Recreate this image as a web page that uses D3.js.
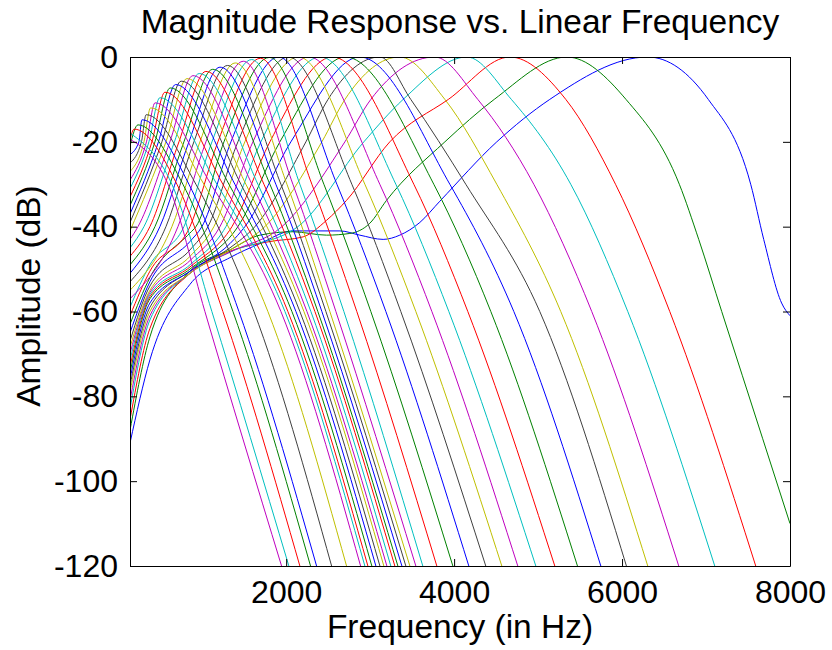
<!DOCTYPE html>
<html>
<head>
<meta charset="utf-8">
<script src="https://cdn.jsdelivr.net/npm/d3@7"></script>
<style>
  body { margin: 0; background: #fff; }
  text { font-family: "Liberation Sans", Arial, Helvetica, sans-serif; fill: #000; }
</style>
</head>
<body>
<div id="chart"></div>
<script>
// 40 gammatone channels, highest centre frequency first (ch1 = rightmost peak).
// All values: frequency in Hz, level in dB.

const peakHz = [6306, 5342, 4664, 4152, 3770, 3353, 3116, 2877, 2705, 2550,
                2405, 2273, 2146, 2026, 1911, 1800, 1693, 1589, 1489, 1393,
                1300, 1211, 1125, 1043, 964, 889, 818, 749, 682, 618,
                556, 496, 439, 385, 332, 282, 235, 189, 145, 104];
const peakDb = [0, 0, 0, 0, 0, 0, 0, 0, 0, 0,
                0, 0, 0, 0, 0, -0.1, -0.3, -0.6, -1.0, -1.4,
                -2.0, -2.4, -2.9, -3.4, -3.9, -4.4, -5.1, -5.7, -6.5, -7.3,
                -8.3, -9.6, -10.8, -12, -13.6, -14.8, -16, -17, -18, -19];

// level where each curve meets the left edge of the axes (140 Hz)
const edgeDb = [-91, -88, -85.5, -83, -81, -79, -77.5, -76, -74.5, -73,
                -71.5, -70, -68.5, -67, -65, -63, -61, -59, -57, -55,
                -53, -51, -49, -47, -45, -43, -41, -39, -37, -35,
                -33, -31, -29, -27, -25, -23, -21, -19.5, null, null];

// low-frequency tail of the upper channels: level at 377 Hz, 854 Hz and 1330 Hz
const tailDb = [-71.4, -66, -64, -62, -61, -60, -59, -58, -57, -56.5,
                -56, -55.5, -55, -54, -53, -52, -50.5, -49];
const midDb = [-53.6, -50.5, -51, -51, -51, -51, -50.5, -50.5, -50, -49.5,
               -49, -48, -47, -45.5, -43.5, -41.5];
const bundleDb = [-47.3, -45.5, -45.8, -46, -46, -45.5, -45, -44];

// the -42 dB shelf of the three highest channels
const shelf1 = [[1687, -44], [2080, -41], [2640, -41], [2877, -42], [3155, -43],
                [3353, -42], [3592, -39], [3830, -34]];
const shelf2 = [[1687, -42], [2080, -41.2], [2481, -42], [2758, -41.6], [2996, -39.2],
                [3195, -33.8]];
const shelf3 = [[1806, -43.5], [2202, -42.4], [2481, -38.5], [2719, -33.8]];

// left flank crossings of -40, -20 and -10 dB
const left40Hz = [null, null, null, 2139, 1949, 1746, 1627, 1508, 1425, 1354,
                  1282, 1211, 1139, 1068, 996, 925, 854, 782, 711, 639,
                  568, 496, 437, 377, 306, 235];
const left20Hz = [4508, 3890, 3234, 2925, 2699, 2425, 2235, 2056, 1925, 1806,
                  1699, 1604, 1508, 1425, 1342, 1259, 1187, 1116, 1044, 973,
                  901, 842, 782, 723, 669, 615, 568, 520, 479, 437,
                  401, 365, 336, 306, 276, 246];
const left10Hz = [5139, 4477, 3931, 3393, 3008, 2700, 2498];

// right flank crossings of -10, -30, -60 and -120 dB
const right10Hz = [7027, 6047, 5330, 4682, 4282, 3890, 3484];
const right30Hz = [7532, 6682, 5922, 5389, 4949, 4508, 4139, 3949, 3758, 3520,
                   3306, 3115, 2937, 2782, 2604, 2449, 2306, 2163, 2080, 2009,
                   1937, 1877, 1806, 1735, 1663, 1592, 1520, 1461, 1389, 1318,
                   1246, 1175, 1104, 1020, 925, 842, 770, 699, 639, 592];
const right60Hz = [null, null, 6568, 6068, 5639, 5270, 5020, 4711, 4437, 4163,
                   3937, 3735, 3544, 3365, 3187, 3008, 2841, 2687, 2592, 2520,
                   2473, 2425, 2377, 2342, 2294, 2247, 2211, 2163, 2116, 2068,
                   2020, 1985, 1937, 1782, 1616, 1437, 1366, 1246, 1115, 1032];
const right120Hz = [null, null, 7592, 7104, 6675, 6306, 6052, 5747, 5469, 5199,
                    4973, 4758, 4568, 4377, 4175, 3985, 3794, 3627, 3544, 3473,
                    3425, 3378, 3330, 3294, 3246, 3199, 3163, 3116, 3068, 3020,
                    2973, 2937, 2886, 2719, 2541, 2362, 2290, 2163, 2032, 1945];

// the two highest channels still end above -120 dB at 8000 Hz
const end1 = [[7687, -43], [7900, -58], [8000, -61]];
const end2 = [[6913, -43], [7187, -60], [7675, -90], [8000, -110]];

const xTicks = [2000, 4000, 6000, 8000];
const yTicks = [0, -20, -40, -60, -80, -100, -120];

// old MATLAB colour order, cycled over the channels
const colors = ["#0000ff", "#008000", "#ff0000", "#00bfbf", "#bf00bf", "#bfbf00", "#404040"];

const width = 832, height = 650;
const plotL = 130, plotR = 790, plotT = 57, plotB = 566;

const svg = d3.select("#chart").append("svg")
  .attr("width", width)
  .attr("height", height);

const x = d3.scaleLinear().domain([140, 8000]).range([plotL, plotR]);
const y = d3.scaleLinear().domain([-120, 0]).range([plotB, plotT]);

svg.append("clipPath").attr("id", "plotArea")
  .append("rect")
  .attr("x", plotL).attr("y", plotT)
  .attr("width", plotR - plotL).attr("height", plotB - plotT);

const at = (arr, i) => (i < arr.length ? arr[i] : null);
const shelves = [shelf1, shelf2, shelf3];
const ends = [end1, end2];

function channelPoints(i) {
  const pts = [];
  if (at(edgeDb, i) != null) pts.push([140, edgeDb[i]]);
  if (at(tailDb, i) != null) pts.push([377, tailDb[i]]);
  if (at(midDb, i) != null) pts.push([854, midDb[i]]);
  if (at(bundleDb, i) != null) pts.push([1330, bundleDb[i]]);
  (shelves[i] || []).forEach(p => pts.push(p));
  if (at(left40Hz, i) != null) pts.push([left40Hz[i], -40]);
  if (at(left20Hz, i) != null) pts.push([left20Hz[i], -20]);
  if (at(left10Hz, i) != null) pts.push([left10Hz[i], -10]);
  pts.push([peakHz[i], peakDb[i]]);
  if (at(right10Hz, i) != null) pts.push([right10Hz[i], -10]);
  pts.push([right30Hz[i], -30]);
  if (at(right60Hz, i) != null) pts.push([right60Hz[i], -60]);
  (ends[i] || []).forEach(p => pts.push(p));
  if (at(right120Hz, i) != null) pts.push([right120Hz[i], -120]);
  return pts.sort((a, b) => a[0] - b[0]);
}

const channels = peakHz.map((d, i) => channelPoints(i));

const line = d3.line()
  .x(d => x(d[0]))
  .y(d => y(d[1]))
  .curve(d3.curveMonotoneX);

svg.append("g")
  .attr("clip-path", "url(#plotArea)")
  .selectAll("path")
  .data(channels)
  .join("path")
  .attr("d", line)
  .attr("fill", "none")
  .attr("stroke", (d, i) => colors[i % colors.length])
  .attr("stroke-width", 1);

// axes box with inward ticks on all four sides
const tickLen = 7;
const bottomAxis = svg.append("g")
  .attr("transform", `translate(0,${plotB})`)
  .call(d3.axisBottom(x).tickValues(xTicks).tickFormat(d3.format("d"))
    .tickSizeInner(-tickLen).tickSizeOuter(0).tickPadding(14));
const topAxis = svg.append("g")
  .attr("transform", `translate(0,${plotT})`)
  .call(d3.axisTop(x).tickValues(xTicks).tickSizeInner(-tickLen).tickSizeOuter(0).tickFormat(""));
const leftAxis = svg.append("g")
  .attr("transform", `translate(${plotL},0)`)
  .call(d3.axisLeft(y).tickValues(yTicks).tickFormat(d3.format("d"))
    .tickSizeInner(-tickLen).tickSizeOuter(0).tickPadding(12));
const rightAxis = svg.append("g")
  .attr("transform", `translate(${plotR},0)`)
  .call(d3.axisRight(y).tickValues(yTicks).tickSizeInner(-tickLen).tickSizeOuter(0).tickFormat(""));

[bottomAxis, topAxis, leftAxis, rightAxis].forEach(g => {
  g.select(".domain").attr("stroke", "#000").attr("stroke-width", 1);
  g.selectAll(".tick line").attr("stroke", "#000");
  g.selectAll(".tick text")
    .style("font-family", "'Liberation Sans', Arial, sans-serif")
    .style("font-size", "32px")
    .attr("fill", "#000");
});
// plain hyphen for the minus sign, as in the original
leftAxis.selectAll(".tick text").text(d => String(d));

svg.append("text")
  .attr("x", (plotL + plotR) / 2)
  .attr("y", 33)
  .attr("text-anchor", "middle")
  .style("font-size", "33.5px")
  .text("Magnitude Response vs. Linear Frequency");

svg.append("text")
  .attr("x", (plotL + plotR) / 2)
  .attr("y", 638)
  .attr("text-anchor", "middle")
  .style("font-size", "33.5px")
  .text("Frequency (in Hz)");

svg.append("text")
  .attr("transform", `translate(40,296) rotate(-90)`)
  .attr("text-anchor", "middle")
  .style("font-size", "33.5px")
  .text("Amplitude (dB)");
</script>
</body>
</html>
